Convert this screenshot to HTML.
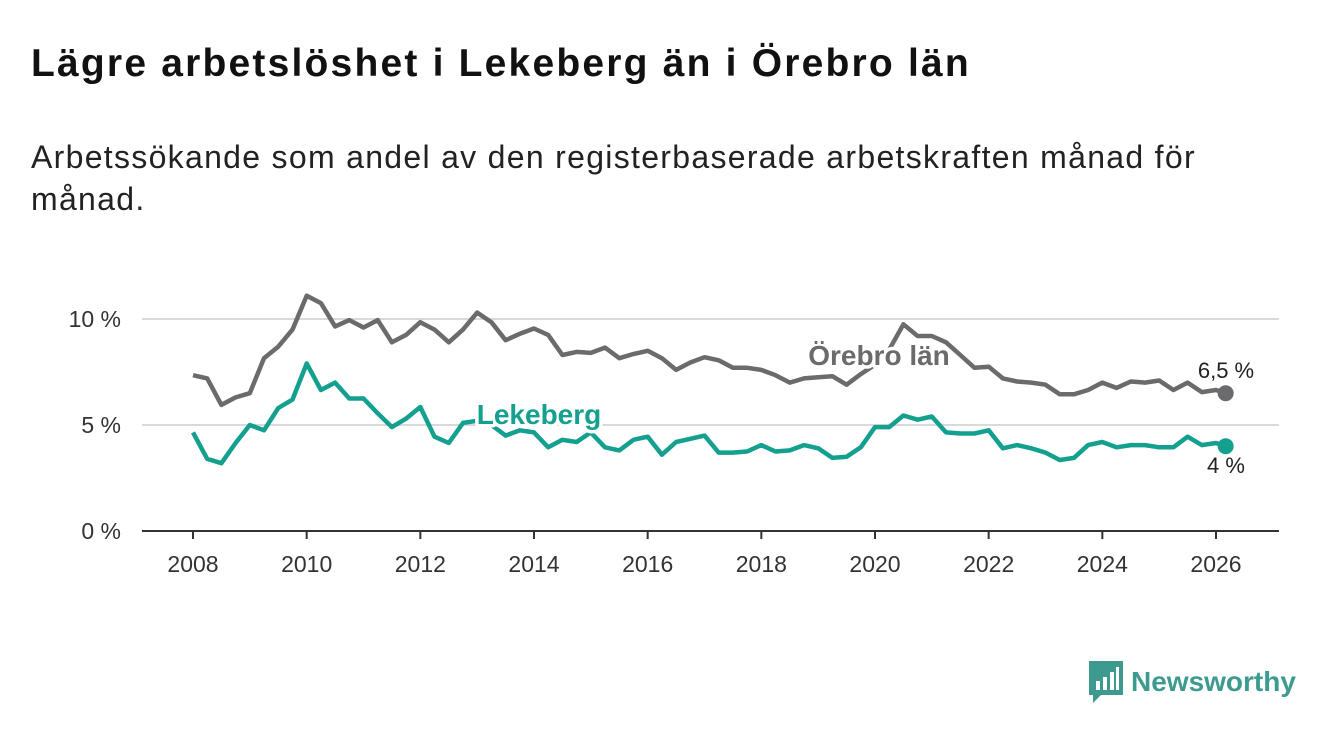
<!DOCTYPE html>
<html><head><meta charset="utf-8">
<style>
body{margin:0;width:1340px;height:734px;background:#fff;font-family:"Liberation Sans","DejaVu Sans",sans-serif;overflow:hidden;position:relative}
#title{position:absolute;left:31px;top:42px;font-size:39px;letter-spacing:2.2px;font-weight:bold;color:#111;margin:0}
#sub{position:absolute;left:31px;top:136px;font-size:32px;letter-spacing:1.3px;color:#222;line-height:42px;width:1200px}
svg{position:absolute;left:0;top:0}
</style></head><body>
<h1 id="title">Lägre arbetslöshet i Lekeberg än i Örebro län</h1>
<div id="sub">Arbetssökande som andel av den registerbaserade arbetskraften månad för månad.</div>
<svg id="chart" width="1340" height="734"></svg>
<script>
const startYear = 2008;
const step = 0.25;
const orebro = [7.35,7.2,5.95,6.3,6.5,8.15,8.7,9.5,11.1,10.75,9.65,9.95,9.6,9.95,8.9,9.25,9.85,9.5,8.9,9.5,10.3,9.85,9.0,9.3,9.55,9.25,8.3,8.45,8.4,8.65,8.15,8.35,8.5,8.15,7.6,7.95,8.2,8.05,7.7,7.7,7.6,7.35,7.0,7.2,7.25,7.3,6.9,7.4,7.85,8.55,9.75,9.2,9.2,8.9,8.3,7.7,7.75,7.2,7.05,7.0,6.9,6.45,6.45,6.65,7.0,6.75,7.05,7.0,7.1,6.65,7.0,6.55,6.65,6.5];
const lekeberg = [4.65,3.4,3.2,4.15,5.0,4.75,5.8,6.2,7.9,6.65,7.0,6.25,6.25,5.55,4.9,5.3,5.85,4.45,4.15,5.1,5.2,5.0,4.5,4.75,4.65,3.95,4.3,4.2,4.65,3.95,3.8,4.3,4.45,3.6,4.2,4.35,4.5,3.7,3.7,3.75,4.05,3.75,3.8,4.05,3.9,3.45,3.5,3.95,4.9,4.9,5.45,5.25,5.4,4.65,4.6,4.6,4.75,3.9,4.05,3.9,3.7,3.35,3.45,4.05,4.2,3.95,4.05,4.05,3.95,3.95,4.45,4.05,4.15,4.0];
const yTicks = [0,5,10];
const yTickLabels = ["0 %","5 %","10 %"];
const xTicks = [2008,2010,2012,2014,2016,2018,2020,2022,2024,2026];

const NS="http://www.w3.org/2000/svg";
const svg=document.getElementById('chart');
const X=t=>193+(t-2008)*(1216-193)/18;
const Y=v=>531-v*21.2;
function mk(tag,attrs,parent){const e=document.createElementNS(NS,tag);for(const k in attrs)e.setAttribute(k,attrs[k]);(parent||svg).appendChild(e);return e;}

yTicks.forEach((v,i)=>{
  if(v>0){const g=mk('line',{x1:142,x2:1279,y1:Y(v),y2:Y(v),stroke:'#d9d9d9','stroke-width':2});
  
  }
  const t=mk('text',{x:121,y:Y(v)+8,'text-anchor':'end','font-size':23,fill:'#333'});t.textContent=yTickLabels[i];
  
  
});
const ax=mk('line',{x1:142,x2:1279,y1:Y(0),y2:Y(0),stroke:'#333','stroke-width':2});


xTicks.forEach(yr=>{
  const tk=mk('line',{x1:X(yr),x2:X(yr),y1:Y(0),y2:Y(0)+8,stroke:'#333','stroke-width':2});
  
  
  const t=mk('text',{x:X(yr),y:572,'text-anchor':'middle','font-size':23,fill:'#333'});t.textContent=yr;
  
  
});
function line(arr,color,name){
  const d=arr.map((v,i)=>(i?'L':'M')+X(Math.min(startYear+i*step,2026.17)).toFixed(1)+','+Y(v).toFixed(1)).join('');
  const p=mk('path',{d:d,fill:'none',stroke:color,'stroke-width':4.5,'stroke-linejoin':'round'});
  
  
  const last=arr.length-1;
  const c=mk('circle',{cx:X(2026.17),cy:Y(arr[last]),r:8,fill:color});
  
  
}
line(orebro,'#6b6b6e','orebro');
line(lekeberg,'#14a08f','lekeberg');
function lab(txt,x,y,color,size,weight,name,halo){
  const t=mk('text',{x:x,y:y,'font-size':size,'font-weight':weight,fill:color,'text-anchor':'middle'});
  if(halo){t.setAttribute('stroke','#fff');t.setAttribute('stroke-width',7);t.setAttribute('paint-order','stroke');t.setAttribute('stroke-linejoin','round');}
  t.textContent=txt;
  
  
}
lab('Örebro län',879,365,'#6b6b6e',28,'bold','orebro-label',true);
lab('Lekeberg',539,424,'#14a08f',28,'bold','lekeberg-label',true);
lab('6,5 %',1226,378,'#222',22,'normal','orebro-end-value',true);
lab('4 %',1226,473,'#222',22,'normal','lekeberg-end-value',true);
</script>
<div style="position:absolute;left:1089px;top:661px;display:flex;align-items:center">
<svg width="36" height="42" style="position:static"><path d="M0 0H34V34H12L4 42V34H0Z" fill="#3d9a8f"/><rect x="7" y="20" width="4" height="9" fill="#fff"/><rect x="14" y="16" width="4" height="13" fill="#fff"/><rect x="21" y="11" width="4" height="18" fill="#fff"/><rect x="27" y="6" width="3" height="23" fill="#fff"/></svg>
<span style="font-size:28px;font-weight:bold;color:#3d9a8f;margin-left:6px">Newsworthy</span></div>
</body></html>
